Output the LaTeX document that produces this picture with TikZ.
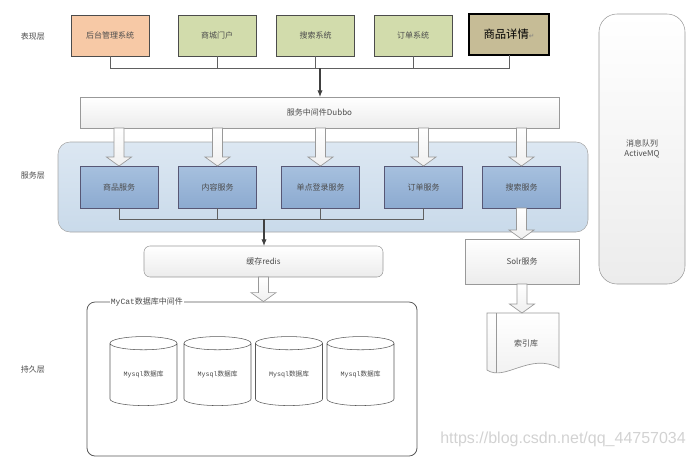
\documentclass[tikz,border=0pt]{standalone}
\usepackage{fontspec}
\setmainfont{Carlito}
\newfontfamily\cjk{Noto Sans CJK SC}
\newfontfamily\monofont{Liberation Mono}
\newfontfamily\symfont{DejaVu Sans}
\newfontfamily\wmfont{Liberation Sans}
\usepackage{tikz}
\usetikzlibrary{positioning, arrows.meta, calc, shapes.geometric}

\definecolor{peach}{HTML}{F7C9A6}
\definecolor{olive}{HTML}{D2DCAC}
\definecolor{tan}{HTML}{C6BC96}
\definecolor{svctop}{HTML}{A6C0DE}
\definecolor{svcbot}{HTML}{8CAAD0}
\definecolor{layertop}{HTML}{DCE7F2}
\definecolor{layerbot}{HTML}{C9DAEA}

% fat block arrow from #1 down to tip #2
\newcommand{\bigarrow}[2]{%
\draw[fatarrow] let \p1=(#1), \p2=(#2) in
  (\x1-3.75pt,\y1) -- (\x1-3.75pt,\y2+6.75pt) -- (\x1-9.4pt,\y2+6.75pt) -- (\x1,\y2)
  -- (\x1+9.4pt,\y2+6.75pt) -- (\x1+3.75pt,\y2+6.75pt) -- (\x1+3.75pt,\y1) -- cycle;}

\begin{document}
\begin{tikzpicture}[x=0.75pt, y=-0.75pt,
  txt/.style={font=\cjk\fontsize{6}{7.5}\selectfont, text=black!70},
  box/.style={txt, draw=gray!60!black, inner sep=0pt, outer sep=0pt, minimum width=58.5pt, minimum height=30.75pt},
  sys/.style={box, fill=#1},
  svc/.style={box, minimum height=31.5pt, draw=blue!15!gray!80!black, top color=svctop, bottom color=svcbot},
  bar/.style={txt, draw=gray!80, inner sep=0pt, outer sep=0pt, top color=white, bottom color=gray!15},
  link/.style={draw=gray!75!black, line width=0.6pt},
  mainlink/.style={draw=black!75, line width=0.8pt, -{Latex[length=5pt,width=4pt]}},
  fatarrow/.style={draw=gray!80, line width=0.5pt, top color=white, bottom color=gray!12},
  db/.style={txt, font=\cjk\fontsize{5}{6}\selectfont, cylinder, shape border rotate=90, aspect=0.33, draw=gray!70!black, fill=white, inner sep=0pt, minimum width=50.25pt, minimum height=51.75pt}]
\useasboundingbox (0,0) rectangle (692,458);

% Presentation layer
\node[txt] (lshow) at (33,36) {表现层};
\node[sys=peach] (admin) at (110,35.5) {后台管理系统};
\node[sys=olive] (portal) at (217,35.5) {商城门户};
\node[sys=olive] (search) at (315.5,35.5) {搜索系统};
\node[sys=olive] (order) at (413,35.5) {订单系统};
\node[sys=tan, draw=black, line width=0.8pt, minimum width=60pt, font=\cjk\fontsize{8.5}{10}\selectfont, text=black] (item) at (509,34.5) {商品详情{\symfont\fontsize{5}{6}\selectfont\color{gray}↵}};

\node[bar, minimum width=359.25pt, minimum height=23.25pt] (dubbo) at (319.5,112.5) {服务中间件Dubbo};
\coordinate (j1) at (320,68);
\foreach \n in {admin,portal,search,order,item}
  \draw[link] (\n.south) |- (j1);
\draw[mainlink] (j1) -- (j1 |- dubbo.north);

% Service layer
\node[txt] (lsvc) at (33,175) {服务层};
\node[draw=gray!70, rounded corners=9pt, top color=layertop, bottom color=layerbot, minimum width=397.5pt, minimum height=67.5pt, inner sep=0pt] (svclayer) at (323,187) {};
\foreach \i/\x/\t in {1/119/商品服务, 2/217.5/内容服务, 3/320.5/单点登录服务, 4/423.5/订单服务, 5/521.5/搜索服务}
  \node[svc] (s\i) at (\x,187) {\t};
\foreach \i in {1,...,5}
  \bigarrow{dubbo.south -| s\i}{s\i.north};

\coordinate (j2) at (264,219);
\foreach \i in {1,...,4}
  \draw[link] (s\i.south) |- (j2);
\node[bar, rounded corners=4.5pt, minimum width=179.25pt, minimum height=23.25pt] (redis) at (263.5,261.5) {缓存redis};
\draw[mainlink] (j2) -- (j2 |- redis.north);

\node[bar, minimum width=85.5pt, minimum height=33.75pt] (solr) at (522,261.5) {Solr服务};
\bigarrow{s5.south}{solr.north};

% Index store
\draw[fatarrow] (487,313) -- (559,313) -- (559,368) .. controls (530,352) and (505,382) .. (487,370) -- cycle;
\draw[gray!80, line width=0.5pt] (496,313) -- (496,373);
\coordinate (idxtop) at (523,313);
\node[txt] (idx) at (526,343) {索引库};
\bigarrow{solr.south}{idxtop};

% Message queue
\node[bar, rounded corners=13.5pt, minimum width=64.5pt, minimum height=202.5pt, align=center] (mq) at (642,149) {消息队列\\ActiveMQ};

% Persistence layer
\node[txt] (lpersist) at (33,369) {持久层};
\node[draw=gray!70!black, rounded corners=6pt, minimum width=247.5pt, minimum height=115.5pt, inner sep=0pt, line width=0.6pt] (mycat) at (252,379) {};
\node[txt, fill=white, inner sep=0.5pt, anchor=west] (mycatlbl) at (110,302) {{\monofont MyCat}数据库中间件};
\bigarrow{redis.south}{redis.south |- mycat.north};
\foreach \i/\x in {1/143.5, 2/217.5, 3/289, 4/360.5}
  \node[db] (db\i) at (\x,374.5) {{\monofont Mysql}数据库};

\node[font=\wmfont\fontsize{12}{14}\selectfont, text=gray!35, anchor=west, inner sep=0pt] (mark) at (440,439) {https://blog.csdn.net/qq\_44757034};
\end{tikzpicture}
\end{document}
